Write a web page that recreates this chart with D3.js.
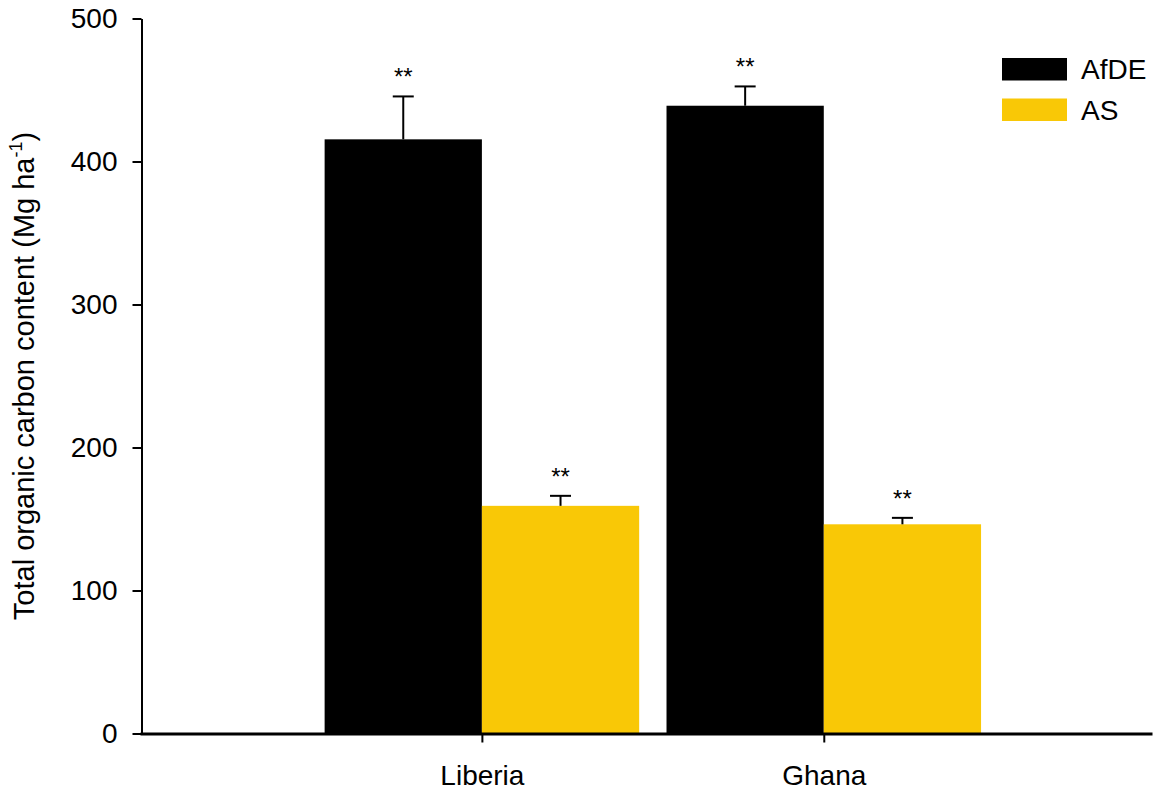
<!DOCTYPE html>
<html>
<head>
<meta charset="utf-8">
<script src="https://cdn.jsdelivr.net/npm/d3@7"></script>
<style>
  html, body { margin: 0; padding: 0; background: #fff; }
  svg { display: block; font-family: "Liberation Sans", Arial, sans-serif; }
</style>
</head>
<body>
<svg id="chart" width="1154" height="791"></svg>
<script>
// Total organic carbon content per site and land-use type
const sites = ["Liberia", "Ghana"];
const seriesNames = ["AfDE", "AS"];
const seriesColors = ["#000000", "#F9C806"];
const afdeMean = [415.5, 439.0];
const afdeErr = [30.0, 13.5];
const asMean = [159.2, 146.3];
const asErr = [7.0, 4.5];
const sigMarks = [["**", "**"], ["**", "**"]];
const yTicks = [0, 100, 200, 300, 400, 500];

const svg = d3.select("#chart");
const W = 1154, H = 791;
const margin = { left: 141.5, right: 2, top: 18.5, bottom: 57.5 };
const FONT = "Liberation Sans, Arial, sans-serif";

// x positions: sites sit at 1 and 2 on a continuous axis
const x = d3.scaleLinear().domain([0, 2.96]).range([140, W - margin.right]);
const y = d3.scaleLinear().domain([0, 500]).range([H - margin.bottom, margin.top]);
const halfW = 0.46; // bar width in axis units

const means = [afdeMean, asMean];
const errs = [afdeErr, asErr];

const bars = [];
sites.forEach((s, i) => {
  seriesNames.forEach((n, k) => {
    const x0 = (i + 1) - halfW + k * halfW;
    bars.push({ site: s, k, x0, x1: x0 + halfW, v: means[k][i], e: errs[k][i], mark: sigMarks[k][i] });
  });
});

svg.append("g").selectAll("rect").data(bars).join("rect")
  .attr("x", d => x(d.x0))
  .attr("width", d => x(d.x1) - x(d.x0))
  .attr("y", d => y(d.v))
  .attr("height", d => y(0) - y(d.v))
  .attr("fill", d => seriesColors[d.k]);

// error bars (upper only)
const eb = svg.append("g").attr("stroke", "#000").attr("stroke-width", 2);
bars.forEach(d => {
  const cx = x((d.x0 + d.x1) / 2);
  eb.append("line").attr("x1", cx).attr("x2", cx).attr("y1", y(d.v)).attr("y2", y(d.v + d.e));
  eb.append("line").attr("x1", cx - 10.5).attr("x2", cx + 10.5).attr("y1", y(d.v + d.e)).attr("y2", y(d.v + d.e));
});

// significance asterisks
svg.append("g").selectAll("text").data(bars).join("text")
  .attr("x", d => x((d.x0 + d.x1) / 2))
  .attr("y", d => y(d.v + d.e) - 11)
  .attr("text-anchor", "middle")
  .attr("font-size", 24)
  .text(d => d.mark);

// y axis
const yAxis = svg.append("g")
  .attr("transform", `translate(${margin.left},0)`)
  .call(d3.axisLeft(y).tickValues(yTicks).tickSize(9).tickPadding(15).tickSizeOuter(0));
yAxis.select(".domain").attr("stroke-width", 2);
yAxis.selectAll(".tick line").attr("stroke-width", 2);
yAxis.selectAll(".tick text").attr("font-size", 28).attr("fill", "#000").attr("font-family", FONT);

// x axis
const xAxis = svg.append("g")
  .attr("transform", `translate(0,${y(0)})`)
  .call(d3.axisBottom(x).tickValues([1, 2]).tickFormat((d, i) => sites[i]).tickSize(9).tickPadding(23).tickSizeOuter(0));
xAxis.select(".domain").attr("stroke-width", 3);
xAxis.selectAll(".tick line").attr("stroke-width", 2);
xAxis.selectAll(".tick text").attr("font-size", 28).attr("fill", "#000").attr("font-family", FONT);

// y axis title
const yt = svg.append("text")
  .attr("transform", `translate(34,${(y(0) + y(500)) / 2}) rotate(-90)`)
  .attr("text-anchor", "middle")
  .attr("font-size", 29);
yt.append("tspan").text("Total organic carbon content (Mg ha");
yt.append("tspan").attr("font-size", 18).attr("dy", -12).text("-1");
yt.append("tspan").attr("dy", 12).text(")");

// legend
const lg = svg.append("g").attr("transform", "translate(1002,58)");
seriesNames.forEach((n, k) => {
  const row = lg.append("g").attr("transform", `translate(0,${k * 40.5})`);
  row.append("rect").attr("width", 65).attr("height", 22.5).attr("fill", seriesColors[k]);
  row.append("text").attr("x", 79).attr("y", 11.5).attr("dy", "0.35em").attr("font-size", 28).text(n);
});
</script>
</body>
</html>
